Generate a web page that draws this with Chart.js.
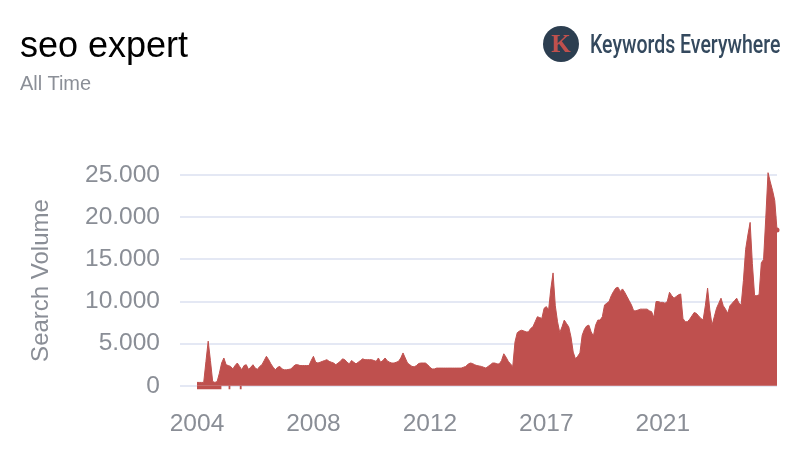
<!DOCTYPE html>
<html>
<head>
<meta charset="utf-8">
<title>seo expert</title>
<script src="https://cdn.jsdelivr.net/npm/chart.js@4"></script>
<style>
    html, body { margin: 0; padding: 0; background: #fff; }
    #page { position: relative; width: 800px; height: 464px; overflow: hidden; filter: blur(0.5px); }
    #chart { position: absolute; left: 0; top: 0; }
    .txt { position: absolute; white-space: nowrap; font-family: "Liberation Sans", Arial, sans-serif; }
    #title { left: 20px; top: 24px; font-size: 36px; color: #000; }
    #sub { left: 20px; top: 72px; font-size: 20px; color: #8b8f97; }
    #logo { position: absolute; left: 543px; top: 26px; width: 36px; height: 36px; border-radius: 50%; background: #2c3e50;
        color: #c0504d; font: bold 25px/36px "Liberation Serif", serif; text-align: center; }
    #brand { left: 590px; top: 30px; font: 500 25px "Roboto", sans-serif; color: #34495e; transform-origin: left top; transform: scaleX(0.78); }
</style>
</head>
<body>
<div id="page">
    <canvas id="chart" width="800" height="464"></canvas>
    <div class="txt" id="title">seo expert</div>
    <div class="txt" id="sub">All Time</div>
    <div id="logo">K</div>
    <div class="txt" id="brand">Keywords Everywhere</div>
</div>
<script>
// monthly search volume
const searchVolume = [
    400, 400, 400, 400, 2900, 5300, 3000, 500, 400, 500, 1500, 2700, 3300, 2500, 2400, 2300, 2000, 2400, 2700, 2300,
    1900, 2400, 2500, 1950, 2200, 2500, 2100, 1950, 2300, 2500, 3000, 3500, 3100, 2600, 2200, 1900, 2200, 2300, 2000, 1900,
    1900, 1950, 2000, 2300, 2500, 2500, 2400, 2400, 2400, 2400, 2400, 3000, 3500, 2800, 2700, 2800, 2900, 3000, 3100, 2900,
    2800, 2700, 2500, 2700, 2900, 3200, 3100, 2800, 2600, 3000, 2800, 2600, 2800, 3000, 3200, 3100, 3100, 3100, 3100, 3000,
    2900, 3300, 2800, 3000, 3300, 2950, 2800, 2700, 2700, 2800, 2900, 3300, 3900, 3300, 2700, 2500, 2300, 2250, 2400, 2650,
    2700, 2700, 2700, 2500, 2200, 2000, 2000, 2100, 2100, 2100, 2100, 2100, 2100, 2100, 2100, 2100, 2100, 2100, 2100, 2200,
    2300, 2550, 2700, 2650, 2500, 2400, 2350, 2300, 2200, 2100, 2300, 2500, 2700, 2700, 2600, 2600, 3000, 3800, 3400, 2900,
    2600, 2300, 5200, 6300, 6500, 6600, 6500, 6400, 6400, 6800, 7000, 7600, 8200, 8100, 8000, 9200, 9400, 9000, 11500, 13400,
    9500, 7600, 6300, 7000, 7800, 7400, 7000, 5800, 4000, 3200, 3500, 3900, 6000, 6700, 7100, 7200, 6400, 5900, 7200, 7800,
    7800, 8200, 9600, 9800, 10000, 10700, 11200, 11600, 11700, 11200, 11500, 11100, 10600, 10100, 9600, 8900, 8900, 9000, 9100, 9100,
    9100, 9100, 8900, 8800, 8100, 10000, 10000, 9900, 9900, 9800, 10000, 11100, 10700, 10400, 10600, 10800, 10900, 8000, 7600, 7600,
    7900, 8300, 8700, 8600, 8300, 8000, 7800, 9500, 11600, 9000, 7200, 8200, 9200, 9800, 10400, 9500, 9100, 8600, 9500, 9800,
    10100, 10400, 9800, 9600, 12500, 16200, 17900, 19400, 14500, 10700, 10700, 10800, 14600, 15000, 20000, 25300, 24200, 23200, 22000, 18500
];
// the small dips under the baseline in the first months
const belowBaseline = [
    -400, -400, -400, -400, -400, -400, -400, -400, -400, -400, -400, -400, null, null, -400, -400, null, null, null, -400, -400
];
const yTickValues = [0, 5000, 10000, 15000, 20000, 25000];
const tickEvery = 52;
const firstYear = 2004;

const monthLabels = [];
for (let i = 0; i < searchVolume.length; i++) {
    monthLabels.push(String(firstYear + Math.floor(i / 12)));
}

const red = '#bf504e';
const grey = '#8a8e96';
const lastIndex = searchVolume.length - 1;

new Chart(document.getElementById('chart').getContext('2d'), {
    type: 'line',
    data: {
        labels: monthLabels,
        datasets: [{
            data: searchVolume,
            borderColor: red,
            backgroundColor: red,
            borderWidth: 1,
            tension: 0,
            fill: 'origin',
            pointBackgroundColor: red,
            pointBorderWidth: 0,
            pointRadius: (c) => c.dataIndex === lastIndex ? 2.5 : 0
        }, {
            data: belowBaseline,
            borderWidth: 0,
            borderColor: red,
            backgroundColor: red,
            tension: 0,
            fill: 'origin',
            pointRadius: 0
        }]
    },
    options: {
        responsive: false,
        animation: false,
        layout: { padding: { top: 171, right: 23 } },
        plugins: { legend: { display: false }, tooltip: { enabled: false } },
        scales: {
            x: {
                grid: { display: false },
                border: { display: false },
                afterFit: (axis) => { axis.height = 74; },
                ticks: {
                    autoSkip: false,
                    maxRotation: 0,
                    padding: 12,
                    color: grey,
                    font: { family: '"Liberation Sans", Arial', size: 24.5 },
                    callback: (v, i) => i % tickEvery === 0 ? monthLabels[i] : ''
                }
            },
            y: {
                min: -500,
                max: 25500,
                border: { display: false },
                grid: { color: '#e4e8f4', lineWidth: 2, tickLength: 17 },
                afterFit: (axis) => { axis.width = 197; },
                afterBuildTicks: (axis) => { axis.ticks = yTickValues.map(v => ({ value: v })); },
                title: {
                    display: true,
                    text: 'Search Volume',
                    color: grey,
                    padding: { top: 27, bottom: 0 },
                    font: { family: '"Liberation Sans", Arial', size: 24 }
                },
                ticks: {
                    padding: 20,
                    color: grey,
                    font: { family: '"Liberation Sans", Arial', size: 24.5 },
                    callback: (v) => v.toLocaleString('de-DE')
                }
            }
        }
    }
});
</script>
</body>
</html>
